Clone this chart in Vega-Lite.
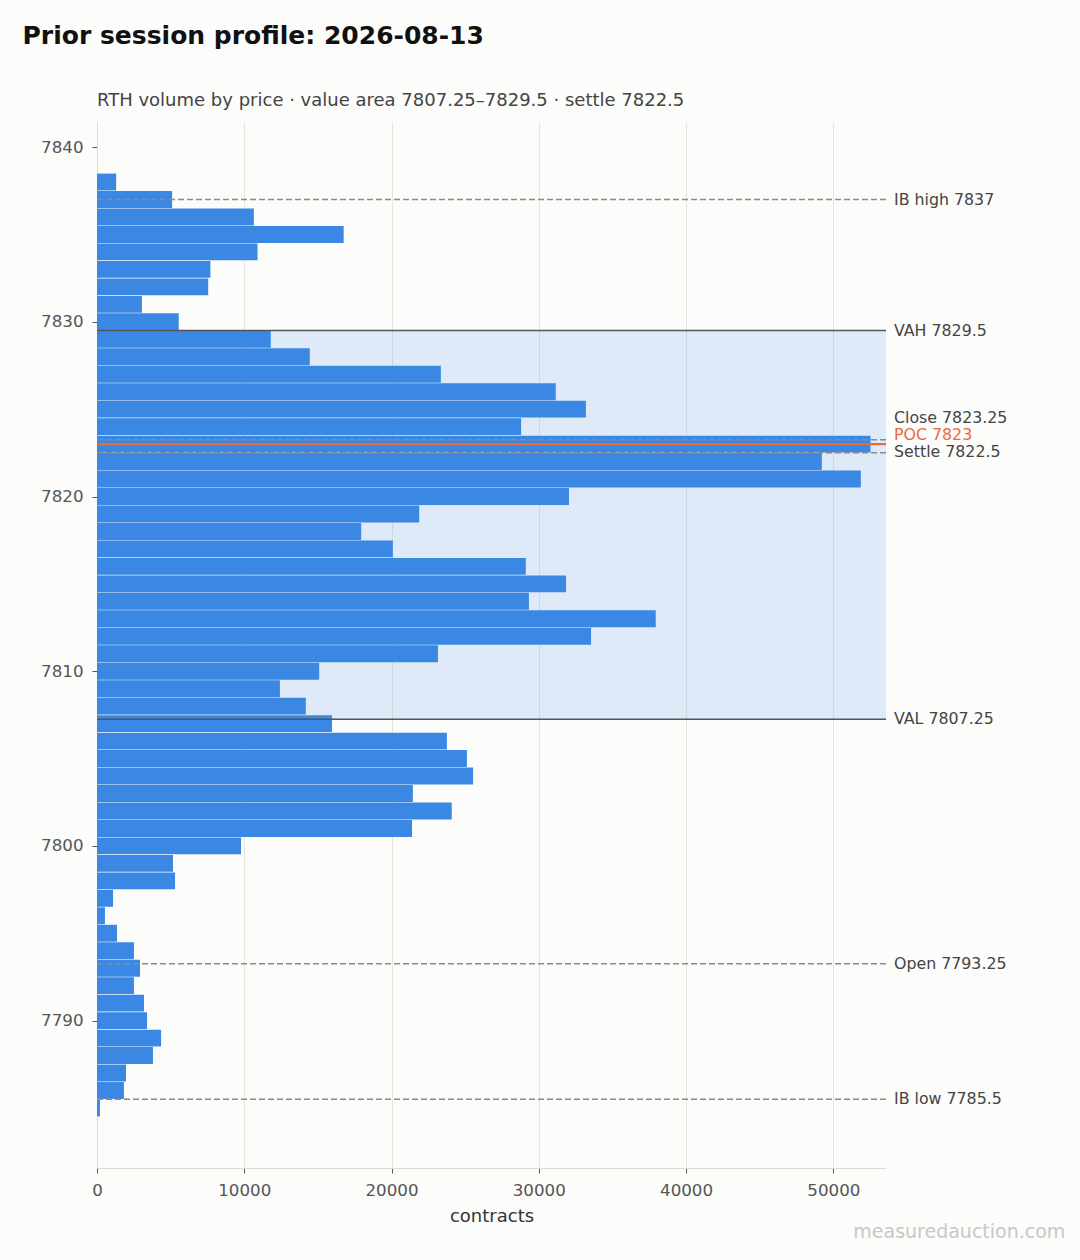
{
  "$schema": "https://vega.github.io/schema/vega-lite/v6.json",
  "background": "#fcfcfa",
  "padding": {"left": 22, "top": 24, "right": 14, "bottom": 18},
  "title": {
    "text": "Prior session profile: 2026-08-13",
    "anchor": "start",
    "frame": "bounds",
    "dx": -18,
    "offset": 43,
    "fontSize": 25,
    "fontWeight": "bold",
    "color": "#111111"
  },
  "vconcat": [
    {
      "title": {
        "text": "measuredauction.com",
        "orient": "bottom",
        "anchor": "end",
        "frame": "bounds",
        "dx": 58,
        "offset": -3,
        "fontSize": 19,
        "fontWeight": "normal",
        "color": "#c8c8c6"
      },
      "vconcat": [
        {
          "title": {
            "text": "RTH volume by price · value area 7807.25–7829.5 · settle 7822.5",
            "anchor": "start",
            "frame": "group",
            "offset": 12,
            "fontSize": 18,
            "fontWeight": "normal",
            "color": "#444444"
          },
          "width": 789,
          "height": 1046,
          "layer": [
            {
              "data": {"values": [{"lo": 7807.25, "hi": 7829.5}]},
              "mark": {"type": "rect", "color": "#1f77f0", "opacity": 0.13},
              "encoding": {
                "y": {"field": "lo", "type": "quantitative"},
                "y2": {"field": "hi"},
                "x": {"datum": 0, "type": "quantitative"},
                "x2": {"datum": 53577}
              }
            },
            {
              "data": {
                "values": [
                  {"price": 7838, "contracts": 1300},
                  {"price": 7837, "contracts": 5100},
                  {"price": 7836, "contracts": 10650},
                  {"price": 7835, "contracts": 16750},
                  {"price": 7834, "contracts": 10900},
                  {"price": 7833, "contracts": 7700},
                  {"price": 7832, "contracts": 7550},
                  {"price": 7831, "contracts": 3050},
                  {"price": 7830, "contracts": 5550},
                  {"price": 7829, "contracts": 11800},
                  {"price": 7828, "contracts": 14450},
                  {"price": 7827, "contracts": 23350},
                  {"price": 7826, "contracts": 31150},
                  {"price": 7825, "contracts": 33200},
                  {"price": 7824, "contracts": 28800},
                  {"price": 7823, "contracts": 52527},
                  {"price": 7822, "contracts": 49220},
                  {"price": 7821, "contracts": 51870},
                  {"price": 7820, "contracts": 32050},
                  {"price": 7819, "contracts": 21880},
                  {"price": 7818, "contracts": 17940},
                  {"price": 7817, "contracts": 20090},
                  {"price": 7816, "contracts": 29120},
                  {"price": 7815, "contracts": 31850},
                  {"price": 7814, "contracts": 29330},
                  {"price": 7813, "contracts": 37940},
                  {"price": 7812, "contracts": 33550},
                  {"price": 7811, "contracts": 23150},
                  {"price": 7810, "contracts": 15090},
                  {"price": 7809, "contracts": 12420},
                  {"price": 7808, "contracts": 14180},
                  {"price": 7807, "contracts": 15960},
                  {"price": 7806, "contracts": 23760},
                  {"price": 7805, "contracts": 25120},
                  {"price": 7804, "contracts": 25540},
                  {"price": 7803, "contracts": 21450},
                  {"price": 7802, "contracts": 24090},
                  {"price": 7801, "contracts": 21390},
                  {"price": 7800, "contracts": 9780},
                  {"price": 7799, "contracts": 5160},
                  {"price": 7798, "contracts": 5300},
                  {"price": 7797, "contracts": 1090},
                  {"price": 7796, "contracts": 540},
                  {"price": 7795, "contracts": 1360},
                  {"price": 7794, "contracts": 2510},
                  {"price": 7793, "contracts": 2920},
                  {"price": 7792, "contracts": 2510},
                  {"price": 7791, "contracts": 3190},
                  {"price": 7790, "contracts": 3400},
                  {"price": 7789, "contracts": 4350},
                  {"price": 7788, "contracts": 3800},
                  {"price": 7787, "contracts": 1970},
                  {"price": 7786, "contracts": 1830},
                  {"price": 7785, "contracts": 200}
                ]
              },
              "mark": {"type": "bar", "orient": "horizontal", "size": 16.9, "color": "#3a88e4"},
              "encoding": {
                "x": {
                  "field": "contracts",
                  "type": "quantitative",
                  "title": "contracts",
                  "scale": {"domain": [0, 53577], "nice": false, "zero": true},
                  "axis": {"values": [0, 10000, 20000, 30000, 40000, 50000], "format": "d", "grid": true, "labelFlush": false}
                },
                "y": {
                  "field": "price",
                  "type": "quantitative",
                  "title": null,
                  "scale": {"domain": [7781.85, 7841.15], "nice": false, "zero": false},
                  "axis": {"values": [7790, 7800, 7810, 7820, 7830, 7840], "format": "d", "grid": false, "labelFlush": false}
                }
              }
            },
            {
              "data": {
                "values": [
                  {"name": "VAH", "level": 7829.5},
                  {"name": "VAL", "level": 7807.25}
                ]
              },
              "mark": {"type": "rule", "color": "#555555", "strokeWidth": 1.4},
              "encoding": {"y": {"field": "level", "type": "quantitative"}}
            },
            {
              "data": {
                "values": [
                  {"name": "IB high", "level": 7837},
                  {"name": "Close", "level": 7823.25},
                  {"name": "Settle", "level": 7822.5},
                  {"name": "Open", "level": 7793.25},
                  {"name": "IB low", "level": 7785.5}
                ]
              },
              "mark": {"type": "rule", "color": "#8a8a88", "strokeWidth": 1.5, "strokeDash": [6, 3]},
              "encoding": {"y": {"field": "level", "type": "quantitative"}}
            },
            {
              "data": {"values": [{"name": "POC", "level": 7823}]},
              "mark": {"type": "rule", "color": "#ea6a3c", "strokeWidth": 2.4},
              "encoding": {"y": {"field": "level", "type": "quantitative"}}
            },
            {
              "data": {
                "values": [
                  {"label": "IB high 7837", "level": 7837},
                  {"label": "VAH 7829.5", "level": 7829.5},
                  {"label": "VAL 7807.25", "level": 7807.25},
                  {"label": "Open 7793.25", "level": 7793.25},
                  {"label": "IB low 7785.5", "level": 7785.5}
                ]
              },
              "mark": {"type": "text", "align": "left", "baseline": "middle", "dx": 8, "fontSize": 15.8, "color": "#444444"},
              "encoding": {
                "x": {"value": "width"},
                "y": {"field": "level", "type": "quantitative"},
                "text": {"field": "label"}
              }
            },
            {
              "data": {"values": [{"label": "Close 7823.25", "level": 7823.25}]},
              "mark": {"type": "text", "align": "left", "baseline": "middle", "dx": 8, "dy": -22, "fontSize": 15.8, "color": "#444444"},
              "encoding": {
                "x": {"value": "width"},
                "y": {"field": "level", "type": "quantitative"},
                "text": {"field": "label"}
              }
            },
            {
              "data": {"values": [{"label": "POC 7823", "level": 7823}]},
              "mark": {"type": "text", "align": "left", "baseline": "middle", "dx": 8, "dy": -9, "fontSize": 15.8, "color": "#ea6a3c"},
              "encoding": {
                "x": {"value": "width"},
                "y": {"field": "level", "type": "quantitative"},
                "text": {"field": "label"}
              }
            },
            {
              "data": {"values": [{"label": "Settle 7822.5", "level": 7822.5}]},
              "mark": {"type": "text", "align": "left", "baseline": "middle", "dx": 8, "dy": -1, "fontSize": 15.8, "color": "#444444"},
              "encoding": {
                "x": {"value": "width"},
                "y": {"field": "level", "type": "quantitative"},
                "text": {"field": "label"}
              }
            }
          ]
        }
      ]
    }
  ],
  "config": {
    "font": "DejaVu Sans",
    "view": {"stroke": null},
    "axis": {
      "domainColor": "#dcdcd6",
      "gridColor": "#e6e6e1",
      "tickColor": "#555555",
      "tickSize": 5,
      "labelColor": "#555555",
      "labelFontSize": 16.7,
      "labelPadding": 9,
      "titleFontSize": 18,
      "titleFontWeight": "normal",
      "titleColor": "#333333",
      "titlePadding": 9
    }
  }
}
